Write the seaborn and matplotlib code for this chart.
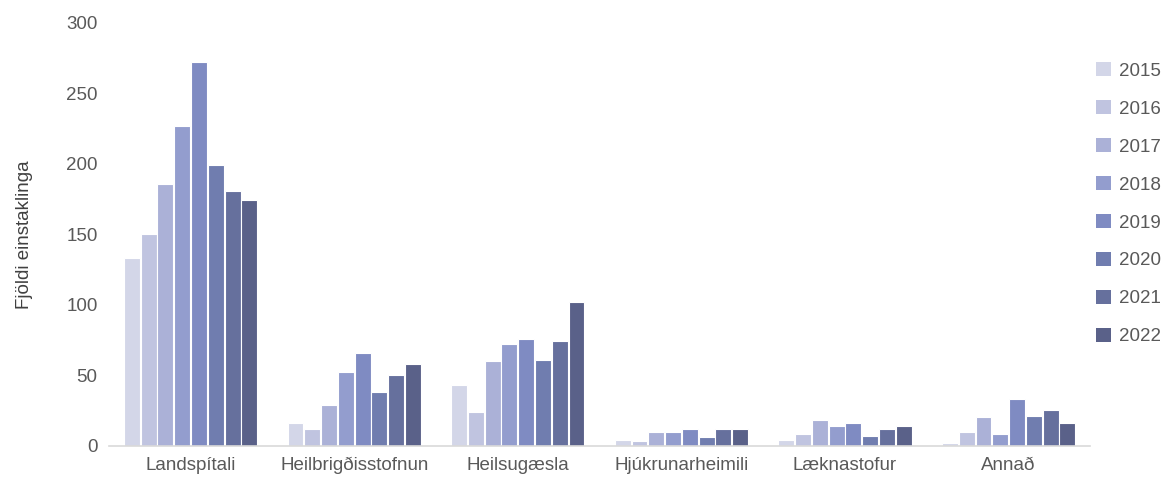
import matplotlib
matplotlib.use("Agg")
import matplotlib.pyplot as plt
import seaborn as sns
import pandas as pd

categories = ["Landspítali", "Heilbrigðisstofnun", "Heilsugæsla", "Hjúkrunarheimili", "Læknastofur", "Annað"]
years = ["2015", "2016", "2017", "2018", "2019", "2020", "2021", "2022"]
v2015 = [133, 16, 43, 4, 4, 2]
v2016 = [150, 12, 24, 3, 8, 10]
v2017 = [186, 29, 60, 10, 18, 20]
v2018 = [227, 52, 72, 10, 14, 8]
v2019 = [272, 66, 76, 12, 16, 33]
v2020 = [199, 38, 61, 6, 7, 21]
v2021 = [181, 50, 74, 12, 12, 25]
v2022 = [174, 58, 102, 12, 14, 16]
series = [v2015, v2016, v2017, v2018, v2019, v2020, v2021, v2022]
colors = ["#D3D6E8", "#C0C4E0", "#ABB1D7", "#939DCE", "#7F8BC2", "#707DAF", "#66709D", "#5A6189"]

rows = []
for y, vals in zip(years, series):
    for c, v in zip(categories, vals):
        rows.append({"cat": c, "year": y, "val": v})
df = pd.DataFrame(rows)

sns.set_theme(style="white")
plt.rcParams["font.family"] = ["Liberation Sans", "DejaVu Sans"]

fig, ax = plt.subplots(figsize=(11.7, 4.87), dpi=100)
fig.subplots_adjust(left=0.093, right=0.932, top=0.953, bottom=0.085)

sns.barplot(data=df, x="cat", y="val", hue="year", palette=colors, ax=ax,
            width=0.82, gap=0.05, edgecolor="white", linewidth=0.8, saturation=1)

ax.set_ylim(0, 300)
ax.set_yticks([0, 50, 100, 150, 200, 250, 300])
ax.set_xlabel("")
ax.set_ylabel("Fjöldi einstaklinga", fontsize=13.5, color="#404040", labelpad=24)
ax.tick_params(axis="both", labelsize=13.5, colors="#595959", length=0, pad=8)
for s in ["top", "right", "left"]:
    ax.spines[s].set_visible(False)
ax.spines["bottom"].set_color("#D9D9D9")
ax.spines["bottom"].set_linewidth(1.2)
ax.grid(False)

leg = ax.legend(loc="upper left", bbox_to_anchor=(0.998, 0.925), frameon=False,
                fontsize=13.5, labelspacing=1.08, handlelength=0.8, handleheight=0.8,
                handletextpad=0.45, borderaxespad=0)
for t in leg.get_texts():
    t.set_color("#595959")
for h in leg.legend_handles:
    h.set_edgecolor("none")

fig.savefig("out.png", dpi=100)
